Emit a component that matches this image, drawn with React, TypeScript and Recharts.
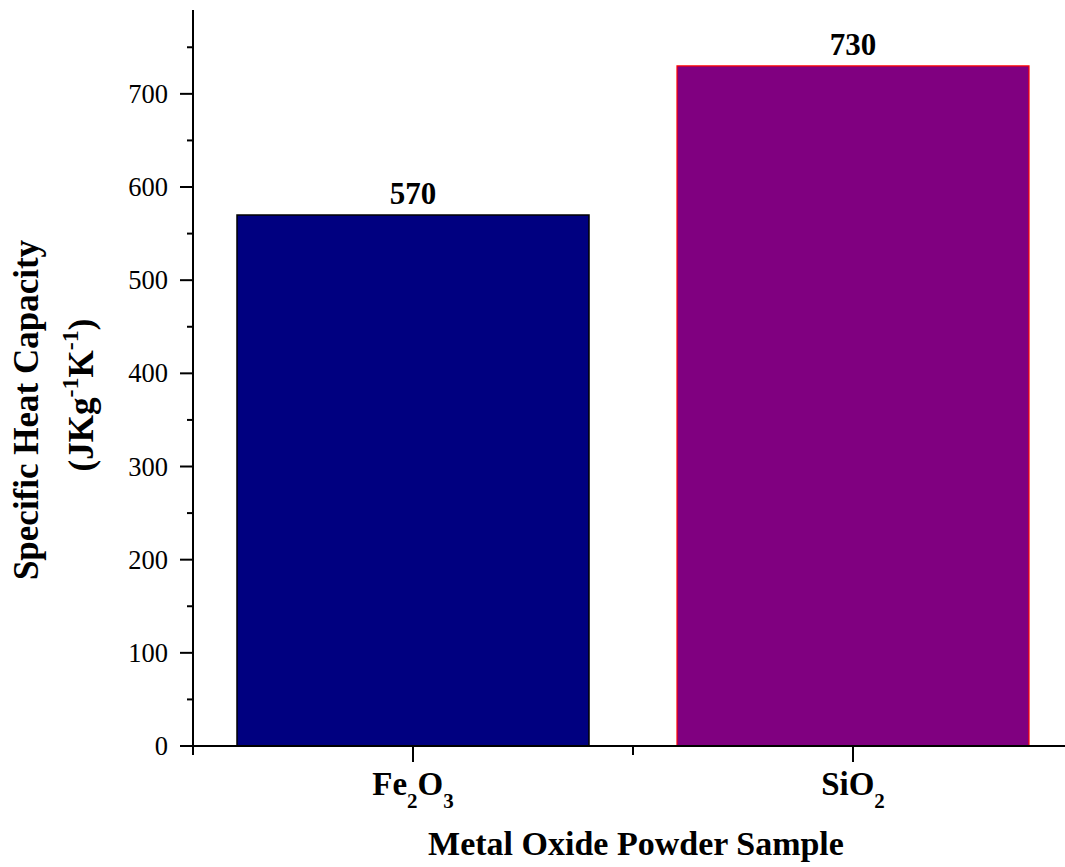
import React from 'react';
import { BarChart, Bar, XAxis, YAxis, Cell, LabelList } from 'recharts';

const categories = ['Fe2O3', 'SiO2'];
const values = [570, 730];
const categoryParts = [
  [{ t: 'Fe' }, { t: '2', sub: true }, { t: 'O' }, { t: '3', sub: true }],
  [{ t: 'Si' }, { t: 'O' }, { t: '2', sub: true }],
];
const yMajorTicks = [0, 100, 200, 300, 400, 500, 600, 700];
const yMinorTicks = [50, 150, 250, 350, 450, 550, 650, 750];
const barFills = ['#000080', '#800080'];
const barStrokes = ['#000000', '#ff0000'];
const xTitle = 'Metal Oxide Powder Sample';
const yTitle1 = 'Specific Heat Capacity';

const FONT = 'Liberation Serif, DejaVu Serif, serif';
const W = 1080;
const H = 867;
const M = { top: 10, right: 7, bottom: 0, left: 93 };
const Y_AXIS_W = 100;
const X_AXIS_H = 121;
const AXIS_X = M.left + Y_AXIS_W;
const AXIS_Y = H - M.bottom - X_AXIS_H;
const HALF_BAND = (W - M.right - AXIS_X) / (2 * categories.length);

const data = categories.map((c, i) => ({ name: c, value: values[i], idx: i }));
const yTicks = [...yMajorTicks, ...yMinorTicks].sort((a, b) => a - b);

const textStyle = { fontFamily: FONT };

const YTick = (props: any) => {
  const { y, payload } = props;
  const major = yMajorTicks.includes(payload.value);
  const len = major ? 13 : 6;
  return (
    <g>
      <line x1={AXIS_X - len} x2={AXIS_X} y1={y} y2={y} stroke="#000" strokeWidth={2} />
      {major && (
        <text x={AXIS_X - 25} y={y} dy="0.34em" textAnchor="end" fontSize={26.5} style={textStyle} fill="#000">
          {payload.value}
        </text>
      )}
    </g>
  );
};

const XTick = (props: any) => {
  const { x, payload } = props;
  const i = categories.indexOf(payload.value);
  const parts = categoryParts[i] || [{ t: String(payload.value) }];
  const nodes: any[] = [];
  let shifted = false;
  parts.forEach((p: any, k: number) => {
    let dy = 0;
    if (p.sub && !shifted) { dy = 13; shifted = true; }
    else if (!p.sub && shifted) { dy = -13; shifted = false; }
    nodes.push(
      <tspan key={k} dy={dy} fontSize={p.sub ? 21 : 33}>{p.t}</tspan>
    );
  });
  return (
    <g>
      <line x1={x} x2={x} y1={AXIS_Y} y2={AXIS_Y + 16} stroke="#000" strokeWidth={2} />
      <line x1={x - HALF_BAND} x2={x - HALF_BAND} y1={AXIS_Y} y2={AXIS_Y + 9} stroke="#000" strokeWidth={2} />
      <line x1={x + HALF_BAND} x2={x + HALF_BAND} y1={AXIS_Y} y2={AXIS_Y + 9} stroke="#000" strokeWidth={2} />
      <text x={x} y={AXIS_Y + 49} textAnchor="middle" fontWeight="bold" style={textStyle} fill="#000">
        {nodes}
      </text>
    </g>
  );
};

export default function App() {
  return (
    <div style={{ position: 'absolute', left: 0, top: 0, width: 1065, height: 867, overflow: 'hidden', background: '#fff', fontFamily: FONT }}>
      <BarChart width={W} height={H} data={data} margin={M} barCategoryGap="10%">
        <XAxis
          dataKey="name"
          height={X_AXIS_H}
          tickLine={false}
          axisLine={{ stroke: '#000', strokeWidth: 2 }}
          tick={<XTick />}
          interval={0}
        />
        <YAxis
          type="number"
          domain={[0, 790]}
          ticks={yTicks}
          interval={0}
          width={Y_AXIS_W}
          tickLine={false}
          axisLine={{ stroke: '#000', strokeWidth: 2 }}
          tick={<YTick />}
          allowDataOverflow
        />
        <Bar dataKey="value" isAnimationActive={false}>
          {data.map((d, i) => (
            <Cell key={d.name} fill={barFills[i]} stroke={barStrokes[i]} strokeWidth={i === 0 ? 1.5 : 1.2} />
          ))}
          <LabelList
            dataKey="value"
            position="top"
            offset={11}
            fill="#000"
            fontSize={31}
            fontWeight="bold"
            style={textStyle}
          />
        </Bar>
      </BarChart>
      <svg width={1065} height={867} style={{ position: 'absolute', left: 0, top: 0, pointerEvents: 'none' }}>
        <text x={636} y={855} textAnchor="middle" fontSize={34} fontWeight="bold" style={textStyle} fill="#000">
          {xTitle}
        </text>
        <text transform="translate(38,410) rotate(-90)" textAnchor="middle" fontSize={35} fontWeight="bold" style={textStyle} fill="#000">
          {yTitle1}
        </text>
        <text transform="translate(93,395) rotate(-90)" textAnchor="middle" fontWeight="bold" style={textStyle} fill="#000" fontSize={35}>
          <tspan>(JKg</tspan>
          <tspan fontSize={24} dy={-15}>-1</tspan>
          <tspan dy={15}>K</tspan>
          <tspan fontSize={24} dy={-15}>-1</tspan>
          <tspan dy={15}>)</tspan>
        </text>
      </svg>
    </div>
  );
}
